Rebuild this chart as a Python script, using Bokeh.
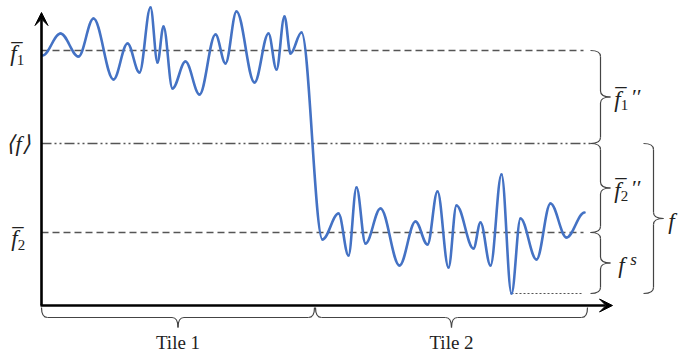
import numpy as np
from bokeh.plotting import figure
from bokeh.models import Range1d, Arrow, VeeHead, ColumnDataSource
from bokeh.embed import file_html
from bokeh.resources import INLINE
from bokeh.core.properties import value

# ---- data (x: position along the tile axis, y: height above the x axis) ----
signal_x = [1, 19, 37, 52, 72, 86, 98, 109, 116, 122, 131, 144, 158, 174, 184, 195,
            213, 227, 235, 243, 249, 260, 281, 297, 307, 315, 324, 339, 358, 374,
            386, 396, 407, 415, 432, 439, 449, 460, 470, 479, 495, 509, 525, 543]
signal_y = [250, 272, 249, 287, 226, 262, 233, 298, 243, 279, 217, 244, 211, 271, 242, 294,
            223, 272, 236, 289, 252, 273, 66, 92, 50, 118, 62, 97, 40, 84,
            61, 114, 38, 100, 57, 83, 40, 131, 12, 87, 46, 102, 68, 93]

level_f1 = 255      # mean of tile 1
level_mean = 162    # overall mean <f>
level_f2 = 73       # mean of tile 2
level_min = 12      # minimum of tile 2
min_x = 470
line_end = 542

tile_edges = [0, 273, 546]
tile_labels = ["Tile 1", "Tile 2"]

BLUE = "#4472C4"
GREY = "#555555"
INK = "#222222"
SERIF = "Liberation Serif"

p = figure(width=682, height=358, x_range=Range1d(-41, 641), y_range=Range1d(-53, 305),
           x_axis_type=None, y_axis_type=None, toolbar_location=None,
           output_backend="svg", min_border=0, outline_line_color=None,
           background_fill_color="white", border_fill_color="white")

# reference levels
p.segment(x0=[0, 0], y0=[level_f1, level_f2], x1=[line_end, line_end], y1=[level_f1, level_f2],
          line_color=GREY, line_width=1.3, line_dash="7 4")
p.segment(x0=[0], y0=[level_mean], x1=[549], y1=[level_mean],
          line_color=GREY, line_width=1.3, line_dash="10 3 2 3 2 3")
p.segment(x0=[min_x], y0=[level_min], x1=[line_end], y1=[level_min],
          line_color=GREY, line_width=1.1, line_dash="2 2")

# signal drawn as smooth cubic segments between successive extrema
sx = np.array(signal_x, dtype=float)
sy = np.array(signal_y, dtype=float)
k = 0.36
x0, x1, y0, y1 = sx[:-1], sx[1:], sy[:-1], sy[1:]
src = ColumnDataSource(dict(x0=x0, y0=y0, x1=x1, y1=y1,
                            cx0=x0 + k * (x1 - x0), cy0=y0,
                            cx1=x1 - k * (x1 - x0), cy1=y1))
p.bezier(x0="x0", y0="y0", x1="x1", y1="y1", cx0="cx0", cy0="cy0", cx1="cx1", cy1="cy1",
         source=src, line_color=BLUE, line_width=2.6, line_cap="round")

# axes with arrow heads
p.add_layout(Arrow(end=VeeHead(size=13, fill_color="black", line_color="black"),
                   x_start=0, y_start=0, x_end=0, y_end=293, line_width=2.6, line_color="black"))
p.add_layout(Arrow(end=VeeHead(size=13, fill_color="black", line_color="black"),
                   x_start=-1, y_start=0, x_end=571, y_end=0, line_width=2.6, line_color="black"))

# braces
qx0, qy0, qx1, qy1, qcx, qcy = [], [], [], [], [], []
sgx0, sgy0, sgx1, sgy1 = [], [], [], []


def quad(a, b, c, d, e, f):
    qx0.append(a); qy0.append(b); qx1.append(c); qy1.append(d); qcx.append(e); qcy.append(f)


def seg(a, b, c, d):
    sgx0.append(a); sgy0.append(b); sgx1.append(c); sgy1.append(d)


def brace_right(x, yl, yh, w=20, r=6):
    xm, xt, ym = x + w / 2, x + w, (yl + yh) / 2
    quad(x, yh, xm, yh - r, xm, yh)
    seg(xm, yh - r, xm, ym + r)
    quad(xm, ym + r, xt, ym, xm, ym)
    quad(xm, ym - r, xt, ym, xm, ym)
    seg(xm, ym - r, xm, yl + r)
    quad(xm, yl + r, x, yl, xm, yl)
    return xt, ym


def brace_down(y, xl, xr, w=20, r=6):
    ys, yt, xc = y - w / 2, y - w, (xl + xr) / 2
    quad(xl, y, xl + r, ys, xl, ys)
    seg(xl + r, ys, xc - r, ys)
    quad(xc - r, ys, xc, yt, xc, ys)
    quad(xc + r, ys, xc, yt, xc, ys)
    seg(xc + r, ys, xr - r, ys)
    quad(xr - r, ys, xr, y, xr, ys)
    return xc, yt


tips = []
tips.append(brace_right(549, level_mean, level_f1))
tips.append(brace_right(549, level_f2, level_mean))
tips.append(brace_right(549, level_min, level_f2))
tips.append(brace_right(602, level_min, level_mean))

tile_tips = []
for i in range(len(tile_labels)):
    tile_tips.append(brace_down(-2, tile_edges[i] + (1 if i else 0), tile_edges[i + 1]))

p.quadratic(x0=qx0, y0=qy0, x1=qx1, y1=qy1, cx=qcx, cy=qcy, line_color="#444444", line_width=1.2)
p.segment(x0=sgx0, y0=sgy0, x1=sgx1, y1=sgy1, line_color="#444444", line_width=1.2)

# ---- texts ----
p.text(x=[t[0] for t in tile_tips], y=[-47, -47], text=tile_labels,
       text_font=value(SERIF), text_font_size="19px", text_align="center",
       text_baseline="bottom", text_color=INK)

# main italic symbols (f with bar etc.)
main_x = [-28, -27, 576, 576, 580, 630]
main_y = [252, 67, tips[0][1] - 2, tips[1][1] - 2, tips[2][1] - 2, tips[3][1] - 3]
main_t = ["f\u0305", "f\u0305", "f\u0305", "f\u0305", "f", "f"]
p.text(x=main_x, y=main_y, text=main_t, text_font=value(SERIF), text_font_size="23px",
       text_font_style="italic", text_align="center", text_baseline="middle", text_color=INK)

# subscripts
sub_x = [main_x[0], main_x[1], main_x[2], main_x[3]]
sub_y = [main_y[0], main_y[1], main_y[2], main_y[3]]
p.text(x=sub_x, y=sub_y, text=["1", "2", "1", "2"], x_offset=7, y_offset=6,
       text_font=value(SERIF), text_font_size="15px", text_align="center",
       text_baseline="middle", text_color=INK)

# double primes
p.text(x=[main_x[2], main_x[3]], y=[main_y[2], main_y[3]], text=["\u2032\u2032", "\u2032\u2032"],
       x_offset=18, y_offset=-3, text_font=value(SERIF), text_font_size="22px",
       text_font_style="italic", text_align="center", text_baseline="middle", text_color=INK)

# superscript s
p.text(x=[main_x[4]], y=[main_y[4]], text=["s"], x_offset=12, y_offset=-6,
       text_font=value(SERIF), text_font_size="17px", text_font_style="italic",
       text_align="center", text_baseline="middle", text_color=INK)

# mean <f>
p.text(x=[-23], y=[level_mean], text=["\u27e8f\u27e9"], text_font=value(SERIF),
       text_font_size="22px", text_font_style="italic", text_align="center",
       text_baseline="middle", text_color=INK)

open("out.html", "w").write(file_html(p, INLINE))
